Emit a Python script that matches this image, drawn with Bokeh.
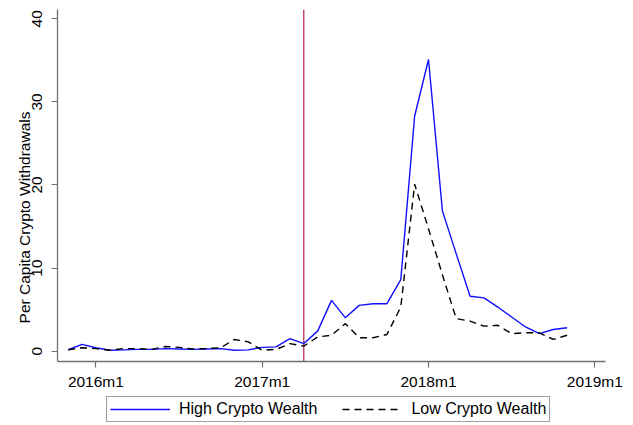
import math
from bokeh.plotting import figure
from bokeh.models import Range1d, FixedTicker, Legend, LegendItem
from bokeh.embed import file_html
from bokeh.resources import INLINE

# ---- data ----
months = ["2015m11", "2015m12",
          "2016m1", "2016m2", "2016m3", "2016m4", "2016m5", "2016m6",
          "2016m7", "2016m8", "2016m9", "2016m10", "2016m11", "2016m12",
          "2017m1", "2017m2", "2017m3", "2017m4", "2017m5", "2017m6",
          "2017m7", "2017m8", "2017m9", "2017m10", "2017m11", "2017m12",
          "2018m1", "2018m2", "2018m3", "2018m4", "2018m5", "2018m6",
          "2018m7", "2018m8", "2018m9", "2018m10", "2018m11"]
high_crypto = [0.16, 0.8,
               0.4, 0.1, 0.15, 0.2, 0.2, 0.3,
               0.25, 0.2, 0.25, 0.3, 0.1, 0.15,
               0.45, 0.5, 1.5, 0.9, 2.4, 6.1,
               4.0, 5.5, 5.7, 5.7, 8.6, 28.3,
               35.1, 16.9, 11.7, 6.6, 6.4, 5.3,
               4.1, 2.9, 2.1, 2.6, 2.8]
low_crypto = [0.15, 0.4,
              0.3, 0.1, 0.3, 0.3, 0.2, 0.55,
              0.45, 0.25, 0.3, 0.4, 1.4, 1.1,
              0.1, 0.2, 0.9, 0.6, 1.7, 1.9,
              3.3, 1.6, 1.6, 2.0, 5.3, 20.1,
              14.7, 9.2, 3.9, 3.6, 3.0, 3.1,
              2.1, 2.2, 2.2, 1.4, 1.9]
event_month = "2017m4"
x_tick_labels = ["2016m1", "2017m1", "2018m1", "2019m1"]
y_ticks = [0, 10, 20, 30, 40]


def month_index(s):
    y, m = s.split("m")
    return (int(y) - 2016) * 12 + int(m) - 1


x = [month_index(s) for s in months]
x_ticks = [month_index(s) for s in x_tick_labels]

FONT = "Liberation Sans"
FS = "15.5px"
AXIS_COL = "#707070"
Y_LO, Y_HI = -1.24, 41.12          # extent of the plot region (y axis)
X_LO, X_HI = -2.77, 36.77          # extent of the plot region (x axis)

p = figure(width=633, height=425, output_backend="svg", toolbar_location=None,
           x_range=Range1d(X_LO, 38.79), y_range=Range1d(-8.96, Y_HI),
           min_border_left=57, min_border_right=0, min_border_top=9,
           min_border_bottom=0)
p.outline_line_color = None
p.grid.visible = False
p.background_fill_color = "white"
p.border_fill_color = "white"

# axes
p.xaxis.fixed_location = Y_LO
p.xaxis.bounds = (X_LO, X_HI)
p.xaxis.ticker = FixedTicker(ticks=x_ticks)
p.xaxis.major_label_overrides = {t: l for t, l in zip(x_ticks, x_tick_labels)}
p.yaxis.bounds = (Y_LO, Y_HI)
p.yaxis.ticker = FixedTicker(ticks=y_ticks)
p.yaxis.major_label_orientation = "vertical"
p.yaxis.axis_label = "Per Capita Crypto Withdrawals"
p.yaxis.axis_label_text_font_style = "normal"
p.yaxis.axis_label_text_font = FONT
p.yaxis.axis_label_text_font_size = FS
p.yaxis.axis_label_text_color = "black"
p.yaxis.axis_label_standoff = -3
p.yaxis.major_label_standoff = 9
p.xaxis.major_label_standoff = 6
for ax in (p.xaxis, p.yaxis):
    ax.axis_line_color = AXIS_COL
    ax.axis_line_width = 1.3
    ax.major_tick_line_color = AXIS_COL
    ax.major_tick_line_width = 1.2
    ax.major_tick_in = 0
    ax.major_tick_out = 6
    ax.minor_tick_line_color = None
    ax.major_label_text_font = FONT
    ax.major_label_text_font_size = FS
    ax.major_label_text_color = "black"

# event line
ev = month_index(event_month)
p.segment(x0=[ev], y0=[Y_LO], x1=[ev], y1=[Y_HI],
          line_color="#C21E48", line_width=1.2)

r_high = p.line(x, high_crypto, line_color="#1010FF", line_width=1.4)
r_low = p.line(x, low_crypto, line_color="black", line_width=1.4,
               line_dash="7 5")

legend = Legend(items=[LegendItem(label="High Crypto Wealth", renderers=[r_high]),
                       LegendItem(label="Low Crypto Wealth", renderers=[r_low])],
                orientation="horizontal", location=(49, 3))
legend.label_text_font = FONT
legend.label_text_font_size = "16px"
legend.label_text_color = "black"
legend.glyph_width = 60
legend.glyph_height = 14
legend.label_height = 14
legend.label_standoff = 9
legend.spacing = 25
legend.padding = 3
legend.margin = 0
legend.border_line_color = "#404040"
legend.border_line_width = 1
legend.background_fill_color = "white"
legend.background_fill_alpha = 1
p.add_layout(legend, "center")

open("out.html", "w").write(file_html(p, INLINE))
